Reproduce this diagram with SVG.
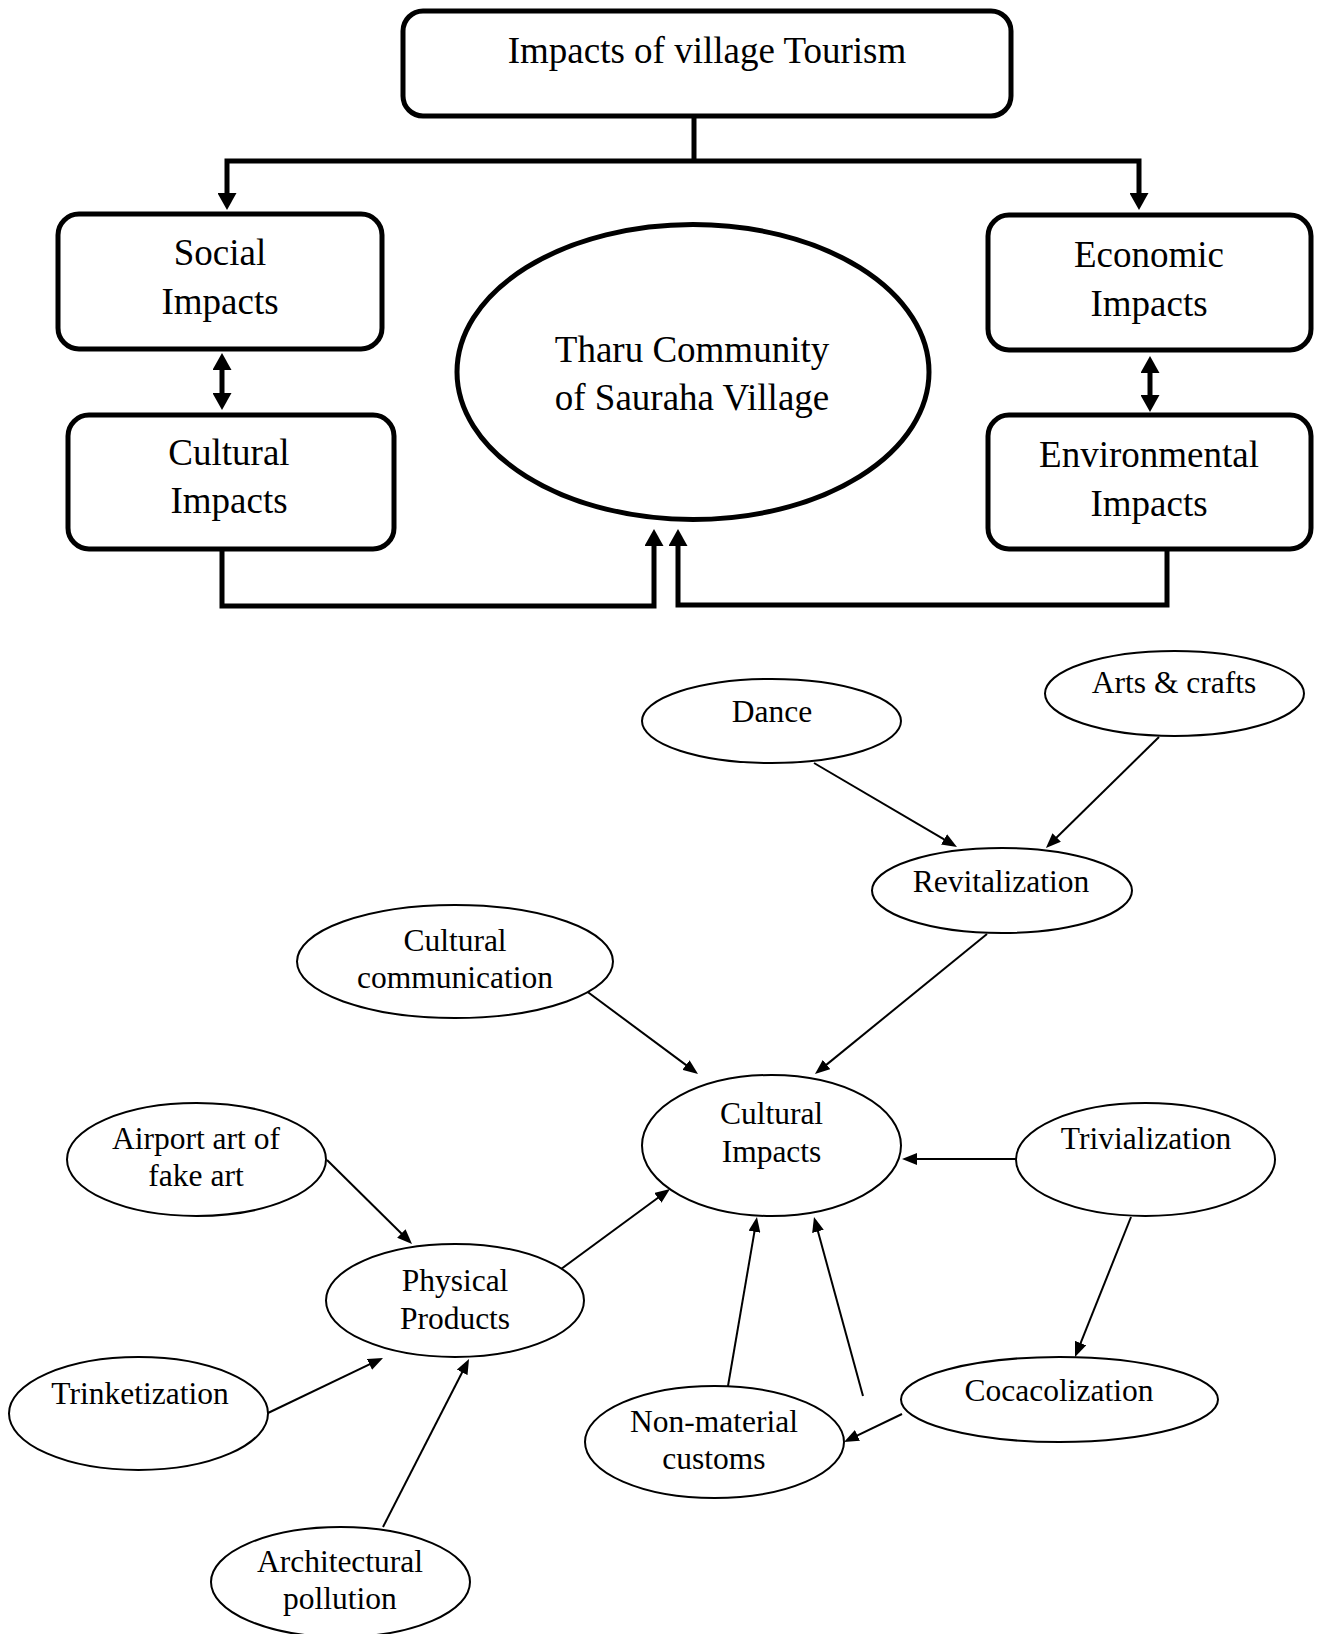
<svg xmlns="http://www.w3.org/2000/svg" width="1320" height="1634" viewBox="0 0 1320 1634">
<defs>
<style>
.box{fill:#fff;stroke:#000;stroke-width:5}
.big{fill:#fff;stroke:#000;stroke-width:5}
.ell{fill:#fff;stroke:#000;stroke-width:2}
.t1{font-family:"Liberation Serif","Times New Roman",serif;font-size:37px;fill:#000;text-anchor:middle}
.t2{font-family:"Liberation Serif","Times New Roman",serif;font-size:31.5px;fill:#000;text-anchor:middle}
.thick{fill:none;stroke:#000;stroke-width:5;stroke-linejoin:miter}
.thin{fill:none;stroke:#000;stroke-width:2}
</style>
<marker id="ah" markerUnits="userSpaceOnUse" viewBox="0 0 18 19" markerWidth="18" markerHeight="19" refX="5" refY="9.5" orient="auto-start-reverse">
<path d="M0,0 L17,9.5 L0,19 z" fill="#000"/>
</marker>
<marker id="as" markerUnits="userSpaceOnUse" viewBox="0 0 16 12" markerWidth="16" markerHeight="12" refX="4" refY="6" orient="auto">
<path d="M0,0 L15,6 L0,12 z" fill="#000"/>
</marker>
</defs>
<rect width="1320" height="1634" fill="#fff"/>

<g id="connectors">
<path class="thick" d="M694,116 V161"/>
<path class="thick" d="M227,198 V161 H1139 V198" marker-start="url(#ah)" marker-end="url(#ah)"/>
<path class="thick" d="M222,365 V398" marker-start="url(#ah)" marker-end="url(#ah)"/>
<path class="thick" d="M1150,368 V400" marker-start="url(#ah)" marker-end="url(#ah)"/>
<path class="thick" d="M222,549 V606 H654 V541" marker-end="url(#ah)"/>
<path class="thick" d="M1167,549 V605 H678 V541" marker-end="url(#ah)"/>

<path class="thin" d="M814,763 L947.5,841.4" marker-end="url(#as)"/>
<path class="thin" d="M1159,737 L1053.8,840.3" marker-end="url(#as)"/>
<path class="thin" d="M987,934 L823.5,1067.1" marker-end="url(#as)"/>
<path class="thin" d="M585,990 L689.2,1067.4" marker-end="url(#as)"/>
<path class="thin" d="M1016,1159 L913,1159" marker-end="url(#as)"/>
<path class="thin" d="M1131,1217 L1079.1,1346.8" marker-end="url(#as)"/>
<path class="thin" d="M902,1414 L853.9,1437.2" marker-end="url(#as)"/>
<path class="thin" d="M863,1396 L816.9,1227.6" marker-end="url(#as)"/>
<path class="thin" d="M728,1386 L755.1,1227.8" marker-end="url(#as)"/>
<path class="thin" d="M557,1272 L661.1,1195.5" marker-end="url(#as)"/>
<path class="thin" d="M327,1160 L404.2,1236.3" marker-end="url(#as)"/>
<path class="thin" d="M268,1413 L373.1,1362.7" marker-end="url(#as)"/>
<path class="thin" d="M383,1527 L464,1368.8" marker-end="url(#as)"/>
</g>

<g id="impacts-village-tourism">
<rect class="box" x="403" y="11" width="608" height="105" rx="20"/>
<text class="t1" x="707" y="63">Impacts of village Tourism</text>
</g>
<g id="social-impacts">
<rect class="box" x="58" y="214" width="324" height="135" rx="21"/>
<text class="t1" x="220" y="265">Social</text>
<text class="t1" x="220" y="314">Impacts</text>
</g>
<g id="cultural-impacts-box">
<rect class="box" x="68" y="415" width="326" height="134" rx="21"/>
<text class="t1" x="229" y="465">Cultural</text>
<text class="t1" x="229" y="513">Impacts</text>
</g>
<g id="economic-impacts">
<rect class="box" x="988" y="215" width="323" height="135" rx="21"/>
<text class="t1" x="1149" y="267">Economic</text>
<text class="t1" x="1149" y="316">Impacts</text>
</g>
<g id="environmental-impacts">
<rect class="box" x="988" y="415" width="323" height="134" rx="21"/>
<text class="t1" x="1149" y="467">Environmental</text>
<text class="t1" x="1149" y="516">Impacts</text>
</g>
<g id="tharu-community">
<ellipse class="big" cx="693" cy="372" rx="236" ry="147.5"/>
<text class="t1" x="692" y="362">Tharu Community</text>
<text class="t1" x="692" y="410">of Sauraha Village</text>
</g>

<g id="dance">
<ellipse class="ell" cx="771.5" cy="721" rx="129.5" ry="42"/>
<text class="t2" x="772" y="722">Dance</text>
</g>
<g id="arts-crafts">
<ellipse class="ell" cx="1174.5" cy="693.5" rx="129.5" ry="42.5"/>
<text class="t2" x="1174" y="693">Arts &amp; crafts</text>
</g>
<g id="revitalization">
<ellipse class="ell" cx="1002" cy="890.5" rx="130" ry="42.5"/>
<text class="t2" x="1001" y="892">Revitalization</text>
</g>
<g id="cultural-communication">
<ellipse class="ell" cx="455" cy="961.5" rx="158" ry="56.5"/>
<text class="t2" x="455" y="951">Cultural</text>
<text class="t2" x="455" y="988">communication</text>
</g>
<g id="cultural-impacts">
<ellipse class="ell" cx="771.5" cy="1145.5" rx="129.5" ry="70.5"/>
<text class="t2" x="771.5" y="1124">Cultural</text>
<text class="t2" x="771.5" y="1162">Impacts</text>
</g>
<g id="trivialization">
<ellipse class="ell" cx="1145.5" cy="1159.5" rx="129.5" ry="56.5"/>
<text class="t2" x="1146" y="1149">Trivialization</text>
</g>
<g id="airport-art">
<ellipse class="ell" cx="196.5" cy="1159.5" rx="129.5" ry="56.5"/>
<text class="t2" x="196" y="1149">Airport art of</text>
<text class="t2" x="196" y="1186">fake art</text>
</g>
<g id="physical-products">
<ellipse class="ell" cx="455" cy="1300.5" rx="129" ry="56.5"/>
<text class="t2" x="455" y="1291">Physical</text>
<text class="t2" x="455" y="1329">Products</text>
</g>
<g id="trinketization">
<ellipse class="ell" cx="138.5" cy="1413.5" rx="129.5" ry="56.5"/>
<text class="t2" x="140" y="1404">Trinketization</text>
</g>
<g id="architectural-pollution">
<ellipse class="ell" cx="340.5" cy="1582" rx="129.5" ry="55"/>
<text class="t2" x="340" y="1572">Architectural</text>
<text class="t2" x="340" y="1609">pollution</text>
</g>
<g id="non-material-customs">
<ellipse class="ell" cx="714.5" cy="1442" rx="129.5" ry="56"/>
<text class="t2" x="714" y="1432">Non-material</text>
<text class="t2" x="714" y="1469">customs</text>
</g>
<g id="cocacolization">
<ellipse class="ell" cx="1059.5" cy="1399.5" rx="158.5" ry="42.5"/>
<text class="t2" x="1059" y="1401">Cocacolization</text>
</g>
</svg>
